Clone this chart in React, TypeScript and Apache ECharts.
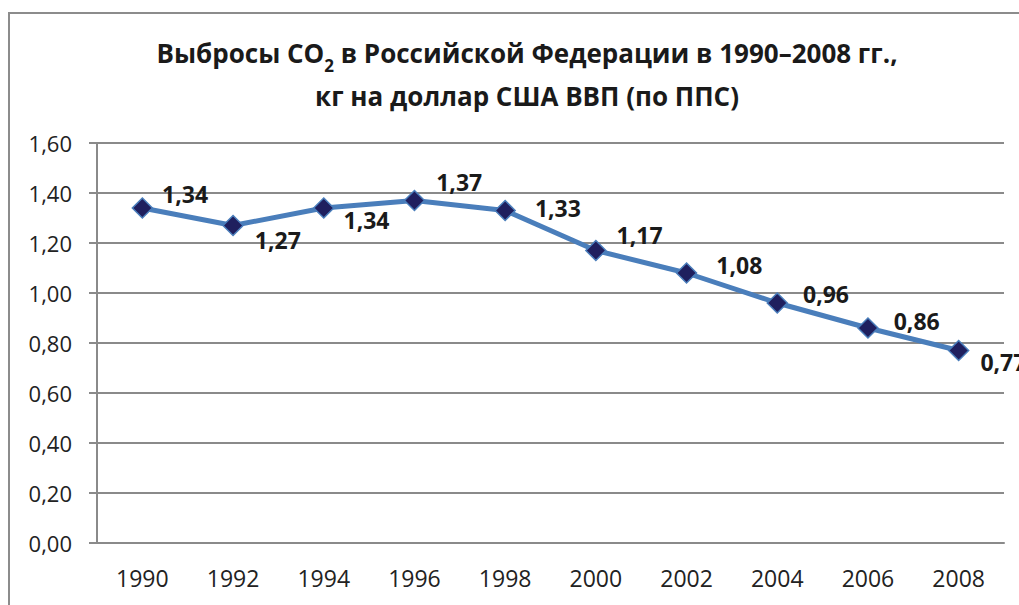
import React, { useEffect, useRef } from "react";
import * as echarts from "echarts";

const years = ["1990", "1992", "1994", "1996", "1998", "2000", "2002", "2004", "2006", "2008"];
const values = [1.34, 1.27, 1.34, 1.37, 1.33, 1.17, 1.08, 0.96, 0.86, 0.77];
const labelOffsets: [number, number][] = [
  [4, -14], [6, 14], [4, 12], [6, -19], [14, -3], [5, -16], [14, -8], [10, -9], [10, -7], [6, 11],
];

const FONT = "'Open Sans', sans-serif";

export default function App() {
  const ref = useRef<HTMLDivElement>(null);
  useEffect(() => {
    const chart = echarts.init(ref.current!, null, { renderer: "svg" });
    chart.setOption({
      animation: false,
      backgroundColor: "#fff",
      graphic: [
        {
          type: "rect",
          shape: { x: 9, y: 13, width: 1040, height: 640 },
          style: { fill: "none", stroke: "#8c8c8c", lineWidth: 2 },
          silent: true,
        },
      ],
      title: {
        text: "{t|Выбросы CO}{s|2}{t| в Российской Федерации в 1990–2008 гг.,}\n{t|кг на доллар США ВВП (по ППС)}",
        left: 522,
        textAlign: "center",
        top: 26,
        textStyle: {
          rich: {
            t: { fontFamily: FONT, fontWeight: "bold", fontSize: 26, color: "#1a1a1a", lineHeight: 43 },
            s: { fontFamily: FONT, fontWeight: "bold", fontSize: 17, color: "#1a1a1a", lineHeight: 43, verticalAlign: "bottom", padding: [22, 0, 0, 0] },
          },
        },
      },
      grid: { left: 97, top: 143, right: 15, bottom: 62 },
      xAxis: {
        type: "category",
        data: years,
        boundaryGap: true,
        axisLine: { lineStyle: { color: "#8a8a8a", width: 2 } },
        axisTick: { show: false },
        axisLabel: { fontFamily: FONT, fontSize: 23, color: "#222", margin: 23 },
      },
      yAxis: {
        type: "value",
        min: 0,
        max: 1.6,
        interval: 0.2,
        axisLine: { show: true, lineStyle: { color: "#8a8a8a", width: 2 } },
        axisTick: { show: true, length: 8, lineStyle: { color: "#8a8a8a", width: 2 } },
        splitLine: { lineStyle: { color: "#8a8a8a", width: 2 } },
        axisLabel: {
          fontFamily: FONT,
          fontSize: 22,
          color: "#222",
          margin: 25,
          formatter: (v: number) => v.toFixed(2).replace(".", ","),
        },
      },
      series: [
        {
          type: "line",
          data: values.map((v, i) => ({
            value: v,
            label: { offset: labelOffsets[i] },
          })),
          symbol: "diamond",
          symbolSize: 20,
          lineStyle: { color: "#4a7ebb", width: 5 },
          itemStyle: { color: "#1f1f5e", borderColor: "#4a7ebb", borderWidth: 1.5 },
          label: {
            show: true,
            position: "right",
            fontFamily: FONT,
            fontWeight: "bold",
            fontSize: 23,
            color: "#1a1a1a",
            formatter: (p: any) => Number(p.value).toFixed(2).replace(".", ","),
          },
        },
      ],
    });
    return () => chart.dispose();
  }, []);
  return (
    <div
      ref={ref}
      style={{ position: "absolute", left: 0, top: 0, width: 1019, height: 605 }}
    />
  );
}
